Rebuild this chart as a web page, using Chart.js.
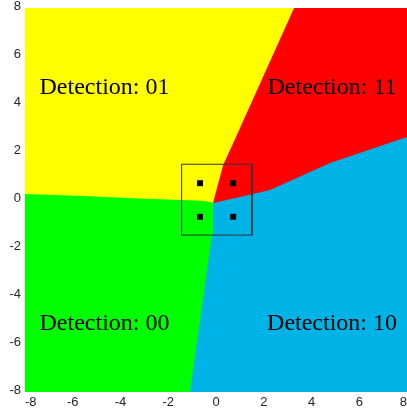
<!DOCTYPE html>
<html>
<head>
<meta charset="utf-8">
<script src="https://cdn.jsdelivr.net/npm/chart.js@4"></script>
<style>
html,body{margin:0;padding:0;background:#fff;}
#wrap{width:407px;height:412px;position:relative;}
</style>
</head>
<body>
<div id="wrap"><canvas id="c" width="407" height="412"></canvas></div>
<script>
// Axis range and ticks
const axisMin = -8, axisMax = 8, tickStep = 2;

// Region polygons (data coordinates)
const regionBlue   = [[-9,9],[-9,-9],[9,-9],[9,9]];
const regionRed    = [[-9,9],[-9,-0.12],[-0.12,-0.12],[1.0,0.125],[2.26,0.42],[4.78,1.54],[8,2.625],[9,2.96],[9,9]];
const regionGreen  = [[-9,9],[-9,-9],[-1.09,-9],[-1.09,-8],[-0.18,-1.54],[-0.12,-1.46],[-0.12,-0.12],[1,9]];
const regionYellow = [[-9,9],[-9,0.25],[-8,0.25],[-5.6,0.17],[-3.2,0.06],[-0.6,-0.03],[-0.12,-0.1],[0.3,1.46],[0.59,2.08],[3.27,8],[3.72,9]];

// Constellation points
const pointsX = [-0.67, 0.72, -0.67, 0.72];
const pointsY = [0.70, 0.70, -0.70, -0.70];

// Box around the points
const boxX = [-1.44, -1.44, 1.51, 1.51, -1.44];
const boxY = [-1.46, 1.49, 1.49, -1.46, -1.46];

// Region labels
const labelTexts = ['Detection: 01', 'Detection: 11', 'Detection: 00', 'Detection: 10'];
const labelX = [-4.67, 4.86, -4.67, 4.86];
const labelY = [4.40, 4.40, -5.42, -5.42];

const toXY = arr => arr.map(p => ({x: p[0], y: p[1]}));

function regionDataset(poly, color, order) {
  return {
    data: toXY(poly),
    backgroundColor: color,
    borderColor: color,
    borderWidth: 0,
    pointRadius: 0,
    pointHoverRadius: 0,
    fill: 'shape',
    tension: 0,
    clip: 0,
    order: order
  };
}

const labelPlugin = {
  id: 'regionLabels',
  afterDatasetsDraw(chart) {
    const ctx = chart.ctx;
    const xs = chart.scales.x, ys = chart.scales.y;
    ctx.save();
    ctx.font = '24px "Liberation Serif", "Times New Roman", serif';
    ctx.fillStyle = '#000';
    ctx.textAlign = 'center';
    ctx.textBaseline = 'alphabetic';
    for (let i = 0; i < labelTexts.length; i++) {
      ctx.fillText(labelTexts[i], xs.getPixelForValue(labelX[i]), ys.getPixelForValue(labelY[i]));
    }
    ctx.restore();
  }
};

new Chart(document.getElementById('c'), {
  type: 'line',
  data: {
    datasets: [
      {
        data: pointsX.map((x, i) => ({x, y: pointsY[i]})),
        showLine: false,
        pointStyle: 'rect',
        pointRadius: 4.2,
        pointHoverRadius: 4.2,
        backgroundColor: '#000',
        borderColor: '#000',
        borderWidth: 0,
        fill: false,
        order: 0
      },
      {
        data: boxX.map((x, i) => ({x, y: boxY[i]})),
        borderColor: '#333333',
        borderWidth: 1,
        pointRadius: 0,
        pointHoverRadius: 0,
        fill: false,
        tension: 0,
        order: 1
      },
      regionDataset(regionYellow, '#FFFF00', 2),
      regionDataset(regionGreen, '#00FF00', 3),
      regionDataset(regionRed, '#FF0000', 4),
      regionDataset(regionBlue, '#00B3E6', 5)
    ]
  },
  options: {
    responsive: false,
    animation: false,
    devicePixelRatio: 1,
    layout: {autoPadding: false, padding: {top: 8, right: 0, left: 0, bottom: 0}},
    plugins: {legend: {display: false}, tooltip: {enabled: false}},
    events: [],
    scales: {
      x: {
        type: 'linear',
        min: axisMin, max: axisMax,
        grid: {display: false, drawTicks: false},
        border: {display: false},
        ticks: {stepSize: tickStep, padding: 3, color: '#262626', align: 'inner',
                font: {family: '"Liberation Sans", Arial, sans-serif', size: 13},
                maxRotation: 0, autoSkip: false},
        afterFit(s) { s.height = 20; s.paddingLeft = 0; s.paddingRight = 0; }
      },
      y: {
        type: 'linear',
        min: axisMin, max: axisMax,
        grid: {display: false, drawTicks: false},
        border: {display: false},
        ticks: {stepSize: tickStep, padding: 4, color: '#262626', labelOffset: -2,
                font: {family: '"Liberation Sans", Arial, sans-serif', size: 13},
                autoSkip: false},
        afterFit(s) { s.width = 25; s.paddingTop = 0; s.paddingBottom = 0; }
      }
    }
  },
  plugins: [labelPlugin]
});
</script>
</body>
</html>
